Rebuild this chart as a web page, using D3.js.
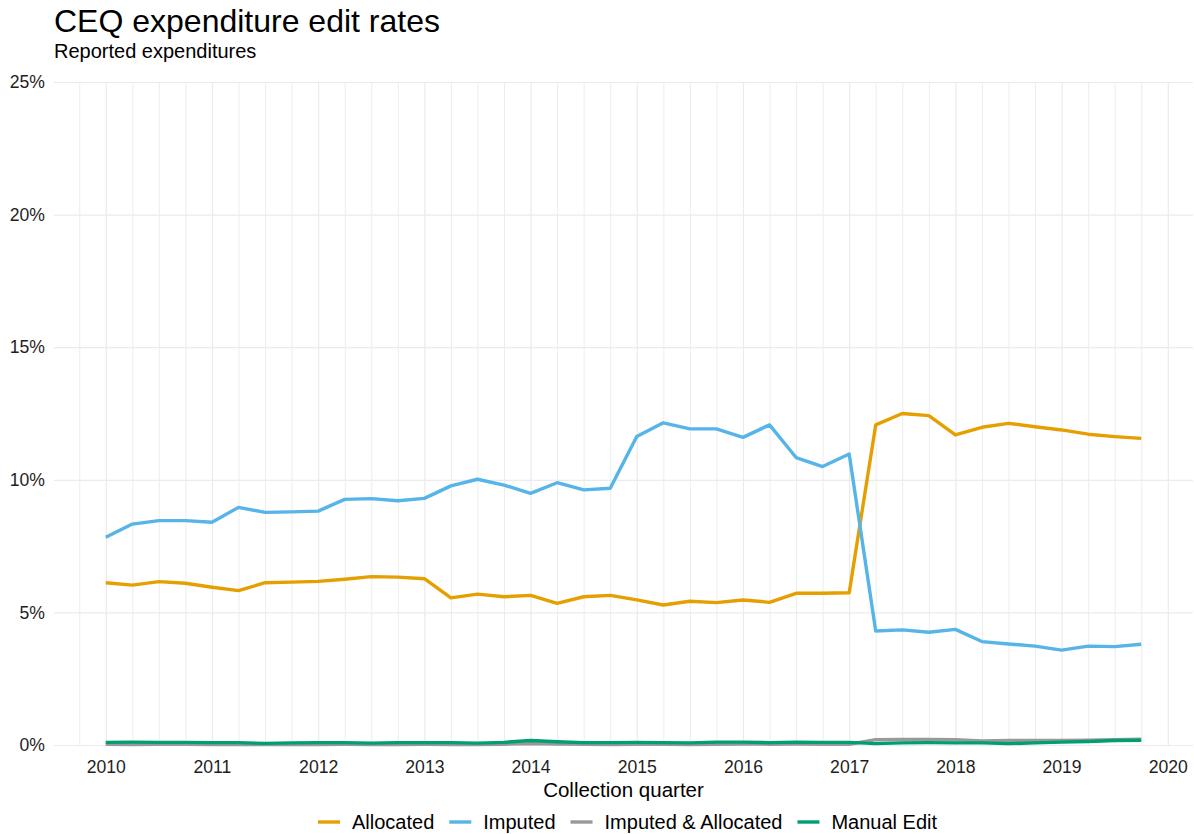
<!DOCTYPE html>
<html>
<head>
<meta charset="utf-8">
<script src="https://cdn.jsdelivr.net/npm/d3@7"></script>
<style>
  body { margin: 0; background: #fff; }
  svg { font-family: "Liberation Sans", Arial, sans-serif; }
  .grid line { stroke: #ebebeb; }
  .tick-label text { fill: #1e1e1e; font-size: 17.6px; }
</style>
</head>
<body>
<svg id="chart" width="1194" height="834"></svg>
<script>
'use strict';

const quarters = [
  '2010 Q1', '2010 Q2', '2010 Q3', '2010 Q4',
  '2011 Q1', '2011 Q2', '2011 Q3', '2011 Q4',
  '2012 Q1', '2012 Q2', '2012 Q3', '2012 Q4',
  '2013 Q1', '2013 Q2', '2013 Q3', '2013 Q4',
  '2014 Q1', '2014 Q2', '2014 Q3', '2014 Q4',
  '2015 Q1', '2015 Q2', '2015 Q3', '2015 Q4',
  '2016 Q1', '2016 Q2', '2016 Q3', '2016 Q4',
  '2017 Q1', '2017 Q2', '2017 Q3', '2017 Q4',
  '2018 Q1', '2018 Q2', '2018 Q3', '2018 Q4',
  '2019 Q1', '2019 Q2', '2019 Q3', '2019 Q4'
];

const allocated = [
  6.12, 6.03, 6.16, 6.10, 5.95, 5.82, 6.12, 6.14,
  6.17, 6.25, 6.35, 6.33, 6.27, 5.55, 5.69, 5.59,
  5.64, 5.34, 5.59, 5.64, 5.47, 5.28, 5.42, 5.37,
  5.47, 5.38, 5.72, 5.72, 5.74, 12.07, 12.50, 12.42,
  11.69, 11.98, 12.13, 12.00, 11.88, 11.72, 11.63, 11.56
];

const imputed = [
  7.83, 8.33, 8.46, 8.46, 8.40, 8.96, 8.77, 8.79,
  8.82, 9.26, 9.29, 9.21, 9.30, 9.77, 10.02, 9.80,
  9.49, 9.89, 9.62, 9.68, 11.63, 12.15, 11.92, 11.92,
  11.60, 12.07, 10.84, 10.50, 10.97, 4.30, 4.34, 4.25,
  4.36, 3.90, 3.81, 3.73, 3.58, 3.73, 3.71, 3.80
];

const imputedAllocated = [
  0.03, 0.02, 0.03, 0.03, 0.02, 0.02, 0.02, 0.02,
  0.02, 0.03, 0.02, 0.02, 0.03, 0.02, 0.02, 0.03,
  0.05, 0.04, 0.03, 0.02, 0.03, 0.03, 0.02, 0.03,
  0.04, 0.03, 0.04, 0.03, 0.03, 0.20, 0.21, 0.21,
  0.20, 0.15, 0.17, 0.17, 0.17, 0.18, 0.20, 0.22
];

const manualEdit = [
  0.10, 0.11, 0.10, 0.10, 0.09, 0.09, 0.06, 0.08,
  0.09, 0.09, 0.07, 0.09, 0.09, 0.09, 0.07, 0.10,
  0.17, 0.12, 0.09, 0.09, 0.10, 0.09, 0.08, 0.11,
  0.11, 0.09, 0.11, 0.10, 0.10, 0.05, 0.08, 0.09,
  0.08, 0.08, 0.05, 0.08, 0.11, 0.13, 0.17, 0.18
];

const seriesNames = ['Allocated', 'Imputed', 'Imputed & Allocated', 'Manual Edit'];
const seriesColors = ['#E69F00', '#56B4E9', '#999999', '#009E73'];
const yearTicks = [2010, 2011, 2012, 2013, 2014, 2015, 2016, 2017, 2018, 2019, 2020];
const pctTicks = [0, 5, 10, 15, 20, 25];

(function() {
    const d3 = window.d3;
    const svg = d3.select('#chart');

    const panel = {left: 54, right: 1193, top: 82, bottom: 745};

    const toYear = q => +q.slice(0, 4) + (+q.slice(6) - 1) / 4;
    const years = quarters.map(toYear);
    const pad = (d3.max(years) - d3.min(years)) * 0.05;

    const x = d3.scaleLinear()
        .domain([d3.min(years) - pad, d3.max(years) + pad])
        .range([panel.left, panel.right]);

    const y = d3.scaleLinear()
        .domain([0, 25])
        .range([panel.bottom, panel.top]);

    // minor grid (quarters)
    const minorTicks = d3.range(Math.ceil(x.domain()[0] * 4), Math.floor(x.domain()[1] * 4) + 1)
        .map(d => d / 4)
        .filter(d => d % 1 !== 0);

    svg.append('g')
        .attr('class', 'grid')
        .attr('transform', 'translate(0,' + panel.bottom + ')')
        .call(d3.axisBottom(x).tickValues(minorTicks).tickFormat('')
            .tickSize(-(panel.bottom - panel.top)))
        .call(g => g.select('.domain').remove())
        .selectAll('line')
        .attr('stroke', '#eeeeee')
        .attr('stroke-width', 0.9);

    svg.append('g')
        .attr('class', 'grid')
        .attr('transform', 'translate(0,' + panel.bottom + ')')
        .call(d3.axisBottom(x).tickValues(yearTicks).tickFormat('')
            .tickSize(-(panel.bottom - panel.top)))
        .call(g => g.select('.domain').remove())
        .selectAll('line')
        .attr('stroke', '#e6e6e6')
        .attr('stroke-width', 1.2);

    svg.append('g')
        .attr('class', 'grid')
        .attr('transform', 'translate(' + panel.left + ',0)')
        .call(d3.axisLeft(y).tickValues(pctTicks).tickFormat('')
            .tickSize(-(panel.right - panel.left)))
        .call(g => g.select('.domain').remove())
        .selectAll('line')
        .attr('stroke', '#e9e9e9')
        .attr('stroke-width', 1.2);

    // tick labels
    svg.append('g')
        .attr('class', 'tick-label')
        .attr('transform', 'translate(0,' + panel.bottom + ')')
        .call(d3.axisBottom(x).tickValues(yearTicks).tickFormat(d3.format('d'))
            .tickSize(0).tickPadding(16))
        .call(g => g.select('.domain').remove())
        .selectAll('text')
        .attr('font-family', null)
        .attr('font-size', null);

    svg.append('g')
        .attr('class', 'tick-label')
        .attr('transform', 'translate(' + (panel.left - 9) + ',0)')
        .call(d3.axisLeft(y).tickValues(pctTicks).tickFormat(d => d + '%')
            .tickSize(0).tickPadding(0))
        .call(g => g.select('.domain').remove())
        .selectAll('text')
        .attr('font-family', null)
        .attr('font-size', null);

    // lines
    const allSeries = [allocated, imputed, imputedAllocated, manualEdit];
    const line = d3.line()
        .x((d, i) => x(years[i]))
        .y(d => y(d));

    svg.append('g')
        .selectAll('path')
        .data(allSeries)
        .enter()
        .append('path')
        .attr('d', line)
        .attr('fill', 'none')
        .attr('stroke', (d, i) => seriesColors[i])
        .attr('stroke-width', 3.4)
        .attr('stroke-linejoin', 'round');

    // titles
    svg.append('text')
        .attr('x', panel.left)
        .attr('y', 32)
        .attr('font-size', 32)
        .attr('fill', '#000')
        .text('CEQ expenditure edit rates');

    svg.append('text')
        .attr('x', panel.left)
        .attr('y', 58)
        .attr('font-size', 20)
        .attr('fill', '#000')
        .text('Reported expenditures');

    svg.append('text')
        .attr('x', (panel.left + panel.right) / 2)
        .attr('y', 797)
        .attr('text-anchor', 'middle')
        .attr('font-size', 20.5)
        .attr('fill', '#000')
        .text('Collection quarter');

    // legend
    const legend = svg.append('g');
    let cursor = 318;
    seriesNames.forEach((name, i) => {
        legend.append('line')
            .attr('x1', cursor)
            .attr('x2', cursor + 22)
            .attr('y1', 822)
            .attr('y2', 822)
            .attr('stroke', seriesColors[i])
            .attr('stroke-width', 3.4);
        const t = legend.append('text')
            .attr('x', cursor + 34)
            .attr('y', 829)
            .attr('font-size', 20)
            .attr('fill', '#000')
            .text(name);
        cursor += 34 + t.node().getComputedTextLength() + 15;
    });
}());
</script>
</body>
</html>
